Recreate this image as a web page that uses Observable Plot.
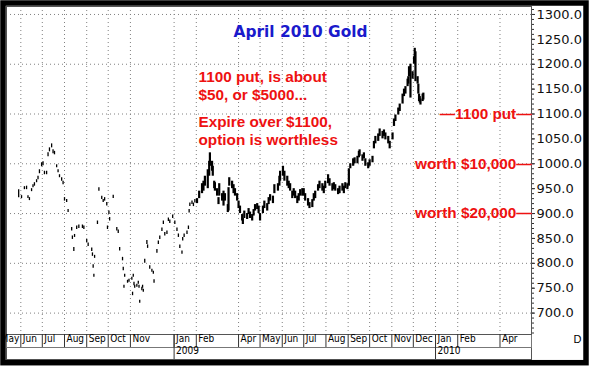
<!DOCTYPE html>
<html><head><meta charset="utf-8">
<script src="https://cdn.jsdelivr.net/npm/d3@7"></script>
<script src="https://cdn.jsdelivr.net/npm/@observablehq/plot@0.6"></script>
<style>body{margin:0;background:#fff}#chart svg{display:block}</style>
</head><body><div id="chart"></div>
<script>
// ---- thin-traded period (2008 – Jan 2009): daily high/low of the April 2010 contract
const sparseDates = [
"2008-05-29","2008-06-02","2008-06-06","2008-06-09","2008-06-11","2008-06-13","2008-06-16","2008-06-18","2008-06-20","2008-06-23",
"2008-06-25","2008-06-27","2008-06-30","2008-07-02","2008-07-04","2008-07-07","2008-07-09","2008-07-11","2008-07-14","2008-07-16",
"2008-07-18","2008-07-21","2008-07-23","2008-07-25","2008-07-28","2008-07-30","2008-08-01","2008-08-04","2008-08-06","2008-08-11",
"2008-08-12","2008-08-14","2008-08-15","2008-08-18","2008-08-21","2008-08-26","2008-08-28","2008-09-01","2008-09-03","2008-09-08",
"2008-09-09","2008-09-10","2008-09-11","2008-09-12","2008-09-16","2008-09-18","2008-09-22","2008-09-24","2008-09-26","2008-09-29",
"2008-09-30","2008-10-02","2008-10-03","2008-10-08","2008-10-13","2008-10-15","2008-10-17","2008-10-21","2008-10-22","2008-10-23",
"2008-10-24","2008-10-28","2008-10-30","2008-11-03","2008-11-04","2008-11-05","2008-11-06","2008-11-07","2008-11-10","2008-11-12",
"2008-11-13","2008-11-14","2008-11-17","2008-11-18","2008-11-19","2008-11-21","2008-11-24","2008-11-25","2008-11-28","2008-12-01",
"2008-12-03","2008-12-04","2008-12-08","2008-12-10","2008-12-12","2008-12-15","2008-12-17","2008-12-19","2008-12-22","2008-12-24",
"2008-12-26","2008-12-30","2009-01-02","2009-01-05","2009-01-07","2009-01-09","2009-01-12","2009-01-13","2009-01-15","2009-01-19",
"2009-01-21","2009-01-22","2009-01-23","2009-01-26","2009-01-28","2009-01-30"];
const sparseLows = [
932,930,948,948,930,926,944,952,955,962,
968,980,994,996,978,978,1014,1024,1032,1020,
1018,992,982,972,965,958,925,922,902,865,
848,824,852,868,870,870,868,842,834,824,
814,790,772,810,878,945,928,922,925,915,
868,898,885,930,865,860,825,805,785,750,
772,760,762,766,735,772,755,750,752,758,
750,720,745,750,742,800,838,830,788,782,
778,760,820,838,848,864,878,855,858,884,
880,890,878,864,852,830,818,845,852,858,
868,901,914,918,914,921];
const sparseHighs = [
948,936,954,955,936,932,950,958,962,968,
975,988,1002,1004,985,985,1022,1032,1040,1028,
1025,998,988,978,972,965,932,928,908,872,
855,832,858,875,877,877,875,848,841,831,
821,797,778,816,885,952,935,928,932,922,
875,905,892,937,872,867,832,812,792,756,
778,766,768,772,742,778,762,756,758,764,
756,726,752,756,748,808,846,837,795,788,
784,767,828,845,855,871,885,862,865,891,
887,897,885,871,859,837,825,852,859,865,
875,908,921,925,921,928];

// ---- active period (Feb – Dec 2009)
const dailyDates = [
"2009-02-02","2009-02-05","2009-02-09","2009-02-11","2009-02-13","2009-02-17","2009-02-19","2009-02-20","2009-02-23","2009-02-24",
"2009-02-26","2009-02-27","2009-03-02","2009-03-04","2009-03-05","2009-03-09","2009-03-11","2009-03-13","2009-03-17","2009-03-18",
"2009-03-19","2009-03-23","2009-03-25","2009-03-27","2009-03-30","2009-04-01","2009-04-03","2009-04-06","2009-04-07","2009-04-09",
"2009-04-13","2009-04-15","2009-04-17","2009-04-20","2009-04-22","2009-04-24","2009-04-27","2009-04-29","2009-05-01","2009-05-05",
"2009-05-07","2009-05-11","2009-05-13","2009-05-15","2009-05-19","2009-05-21","2009-05-26","2009-05-28","2009-05-29","2009-06-02",
"2009-06-04","2009-06-08","2009-06-10","2009-06-12","2009-06-15","2009-06-17","2009-06-19","2009-06-22","2009-06-24","2009-06-26",
"2009-06-29","2009-07-01","2009-07-03","2009-07-07","2009-07-09","2009-07-13","2009-07-15","2009-07-17","2009-07-21","2009-07-23",
"2009-07-27","2009-07-29","2009-07-31","2009-08-04","2009-08-06","2009-08-10","2009-08-12","2009-08-14","2009-08-18","2009-08-20",
"2009-08-24","2009-08-26","2009-08-28","2009-08-31","2009-09-02","2009-09-04","2009-09-08","2009-09-10","2009-09-14","2009-09-16",
"2009-09-17","2009-09-21","2009-09-23","2009-09-25","2009-09-29","2009-10-01","2009-10-05","2009-10-07","2009-10-09","2009-10-13",
"2009-10-15","2009-10-19","2009-10-21","2009-10-23","2009-10-27","2009-10-29","2009-11-02","2009-11-04","2009-11-06","2009-11-10",
"2009-11-12","2009-11-16","2009-11-18","2009-11-20","2009-11-23","2009-11-24","2009-11-25","2009-11-27","2009-11-30","2009-12-02",
"2009-12-03","2009-12-04","2009-12-07","2009-12-08","2009-12-09","2009-12-10","2009-12-11","2009-12-14","2009-12-15"];
const dailyLows = [
920,930,940,945,955,950,975,995,985,975,
950,945,935,918,935,925,915,925,902,905,
955,950,940,935,925,910,900,885,878,890,
888,898,890,885,895,905,908,900,885,900,
910,905,918,925,920,940,945,955,965,975,
965,955,950,945,930,935,930,920,925,935,
935,935,925,915,910,912,925,930,945,950,
945,940,950,960,955,945,948,945,938,940,
945,940,950,948,955,990,995,1000,1000,1012,
1015,1005,1010,995,990,995,1002,1030,1040,1045,
1055,1050,1055,1048,1040,1030,1048,1075,1085,1098,
1105,1120,1135,1140,1155,1160,1175,1132,1170,1200,
1210,1165,1160,1140,1125,1122,1118,1125,1128];
const dailyHighs = [
930,945,960,965,975,988,1005,1022,1005,995,
965,962,950,932,960,940,945,940,918,952,
972,965,958,950,940,925,915,898,890,905,
900,910,903,898,908,918,920,915,900,915,
925,920,932,938,935,958,960,975,985,995,
985,975,965,960,945,950,945,935,940,948,
950,950,940,930,922,928,940,945,958,965,
960,955,965,978,970,960,962,958,950,955,
960,955,962,960,990,1000,1010,1012,1015,1025,
1028,1018,1022,1010,1002,1008,1015,1045,1055,1060,
1070,1065,1068,1062,1055,1045,1062,1090,1098,1112,
1120,1140,1150,1155,1170,1175,1195,1200,1185,1215,
1232,1225,1175,1160,1140,1135,1130,1140,1142];

// ---- axes / labels
const yTickValues = [700,750,800,850,900,950,1000,1050,1100,1150,1200,1250,1300];
const yGridValues = [700,800,900,1000,1100,1200,1300];
const monthDates = ["2008-05-01","2008-06-01","2008-07-01","2008-08-01","2008-09-01","2008-10-01","2008-11-01",
  "2009-01-01","2009-02-01","2009-04-01","2009-05-01","2009-06-01","2009-07-01","2009-08-01","2009-09-01","2009-10-01",
  "2009-11-01","2009-12-01","2010-01-01","2010-02-01","2010-04-01"];
const monthLabels = ["May","Jun","Jul","Aug","Sep","Oct","Nov","Jan","Feb","Apr","May","Jun","Jul","Aug","Sep","Oct",
  "Nov","Dec","Jan","Feb","Apr"];
const yearDates = ["2009-01-01","2010-01-01"];
const yearLabels = ["2009","2010"];
const titleText = "April 2010 Gold";
const noteTop = "1100 put, is about\n$50, or $5000...";
const noteBottom = "Expire over $1100,\noption is worthless";
const levelValues = [1100, 1000, 900];
const levelLabels = ["\u20141100 put\u2014", "worth $10,000\u2014", "worth $20,000\u2014"];
const periodLabel = "D";

const xDomain = [new Date("2008-05-12"), new Date("2010-05-15")];
const bar = (ds, lo, hi) => ds.map((d, i) => ({date: new Date(d), lo: lo[i], hi: hi[i]}));
const sparse = bar(sparseDates, sparseLows, sparseHighs);
const daily = bar(dailyDates, dailyLows, dailyHighs);
const months = monthDates.map((d, i) => ({date: new Date(d), label: monthLabels[i]}));
const gridMonths = months.filter(m => m.date >= xDomain[0]);
const years = yearDates.map((d, i) => ({date: new Date(d), label: yearLabels[i]}));
const levels = levelValues.map((v, i) => ({v, label: levelLabels[i]}));
const minorTicks = d3.range(660, 1320, 10);

const RED = "#ee1111";
const sans = "Liberation Sans, Arial, sans-serif";
const narrow = "Liberation Sans Narrow, DejaVu Sans Condensed, Arial Narrow, sans-serif";

const chart = Plot.plot({
  width: 593, height: 369,
  marginLeft: 6, marginRight: 62, marginTop: 6, marginBottom: 35,
  style: {background: "#fff", fontFamily: "DejaVu Sans, sans-serif", color: "#000"},
  x: {type: "utc", domain: xDomain, axis: null},
  y: {domain: [657, 1316], axis: null},
  marks: [
    Plot.ruleY(yGridValues, {stroke: "#808080", strokeDasharray: "1,3"}),
    Plot.ruleX(gridMonths, {x: "date", stroke: "#808080", strokeDasharray: "1,3"}),
    Plot.frame({stroke: "#555", insetBottom: -25}),
    Plot.frame({stroke: "#777", insetBottom: -13}),
    Plot.frame({stroke: "#555"}),
    Plot.axisX(gridMonths.map(m => m.date), {anchor: "bottom", tickSize: 13, tickFormat: () => "", stroke: "#333"}),
    Plot.axisX(years.map(y => y.date), {anchor: "bottom", tickSize: 25, tickFormat: () => "", stroke: "#333"}),
    Plot.text(months, {x: "date", text: "label", frameAnchor: "bottom", dy: 7, dx: 2, textAnchor: "start",
      fontSize: 10, fontFamily: narrow, fill: "#000"}),
    Plot.text(years, {x: "date", text: "label", frameAnchor: "bottom", dy: 19, dx: 2, textAnchor: "start",
      fontSize: 10, fontFamily: narrow, fill: "#000"}),
    Plot.text([periodLabel], {frameAnchor: "bottom-right", dx: 42, dy: 8, textAnchor: "start",
      fontSize: 11, fontFamily: sans, fill: "#000"}),
    Plot.axisY({anchor: "right", ticks: minorTicks, tickSize: 2, tickFormat: () => "", stroke: "#333"}),
    Plot.axisY({anchor: "right", ticks: yTickValues, tickSize: 3, tickPadding: 2, tickFormat: d => d.toFixed(1),
      fontSize: 13, fill: "#111", stroke: "#333"}),
    Plot.ruleX(sparse, {x: "date", y1: "lo", y2: "hi", stroke: "#000", strokeWidth: 1.3}),
    Plot.ruleX(daily, {x: "date", y1: "lo", y2: "hi", stroke: "#000", strokeWidth: 2.2}),
    Plot.text([titleText], {frameAnchor: "top-left", dx: 227, dy: 20, lineAnchor: "top", textAnchor: "start",
      fontSize: 15.4, fontWeight: "bold", fontFamily: "DejaVu Sans, sans-serif", fill: "#1a1acc"}),
    Plot.text([noteTop], {frameAnchor: "top-left", dx: 192, dy: 62.5, lineAnchor: "top", textAnchor: "start",
      lineHeight: 1.18, fontSize: 15.3, fontWeight: "bold", fontFamily: sans, fill: RED}),
    Plot.text([noteBottom], {frameAnchor: "top-left", dx: 192, dy: 107.5, lineAnchor: "top", textAnchor: "start",
      lineHeight: 1.18, fontSize: 15.3, fontWeight: "bold", fontFamily: sans, fill: RED}),
    Plot.text(levels, {y: "v", text: "label", frameAnchor: "right", textAnchor: "end",
      fontSize: 15.3, fontWeight: "bold", fontFamily: sans, fill: RED}),
    Plot.frame({stroke: "#000", strokeWidth: 5.5, insetTop: -3.5, insetLeft: -3.5, insetRight: -54.5, insetBottom: -28.2})
  ]
});
document.getElementById("chart").append(chart);
</script>
</body></html>
